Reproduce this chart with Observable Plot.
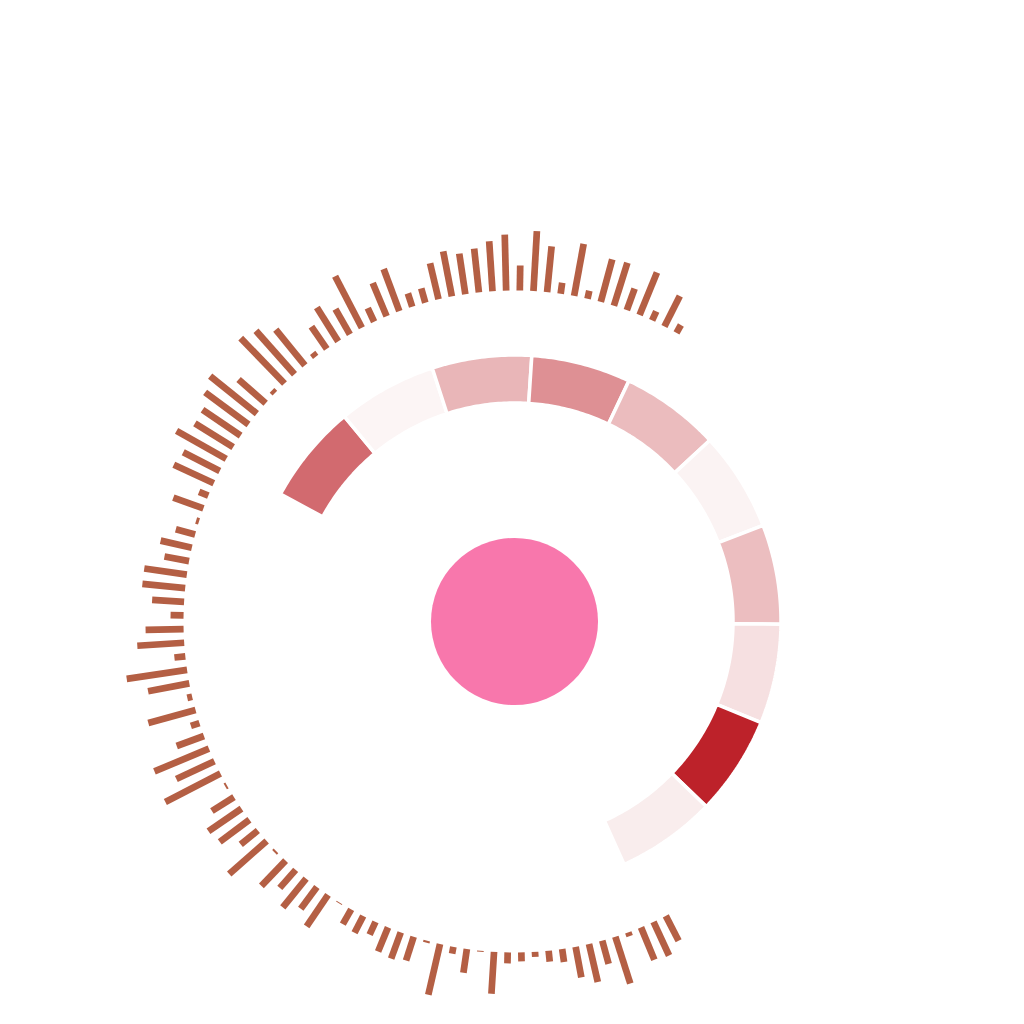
<!DOCTYPE html>
<html>
<head>
<meta charset="utf-8">
<script src="https://cdn.jsdelivr.net/npm/d3@7"></script>
<script src="https://cdn.jsdelivr.net/npm/@observablehq/plot@0.6"></script>
<style>
  html, body { margin: 0; padding: 0; background: #ffffff; }
  #chart { width: 1024px; height: 1024px; }
</style>
</head>
<body>
<div id="chart"></div>
<script>
// ---------------- data ----------------
// outer radial bars (101 bars, clockwise starting at lower right)
const barValues = [
  28, 37, 35, 4, 49, 24, 39, 31, 13, 11,
  5, 9, 11, 42, 1, 24, 7, 52, 2, 25,
  28, 26, 14, 19, 17, 1, 38, 27, 37, 24,
  35, 2, 50, 22, 37, 40, 26, 2, 62, 42,
  59, 29, 9, 49, 5, 42, 61, 11, 47, 38,
  13, 32, 43, 43, 25, 32, 20, 3, 32, 10,
  44, 41, 57, 45, 46, 54, 60, 36, 4, 63,
  58, 46, 5, 27, 40, 29, 58, 15, 36, 45,
  14, 15, 37, 46, 41, 44, 50, 56, 25, 60,
  46, 11, 53, 8, 44, 45, 23, 46, 10, 34, 9
];
// inner ring segments (heat values)
const ringCategories = ["S1", "S2", "S3", "S4", "S5", "S6", "S7", "S8", "S9", "S10"];
const ringValues = [66, 0, 30, 48, 27, 1, 26, 10, 100, 4];
// centre disc
const centerValues = [1];

// ---------------- layout ----------------
const W = 1024, H = 1024;
const CX = 514, CY = 621;            // pixel position of the polar origin
const barInner = 331;                // radius where bars start
const barStart = 152.8, barEnd = 389.3; // degrees clockwise from 12 o'clock
const ringInner = 218.5, ringOuter = 266.5;
const ringStart = -61.4, ringEnd = 155.7;
const centerR = 83.5;

const rad = d => d * Math.PI / 180;
const polar = (angleDeg, r) => ({ x: r * Math.sin(rad(angleDeg)), y: r * Math.cos(rad(angleDeg)) });

// bar angle scale
const barAngle = d3.scaleLinear().domain([0, barValues.length - 1]).range([barStart, barEnd]);
const bars = barValues.map((v, i) => {
  const a = barAngle(i);
  const p0 = polar(a, barInner), p1 = polar(a, barInner + v);
  return { i, value: v, x1: p0.x, y1: p0.y, x2: p1.x, y2: p1.y };
});

// ring segment polygons
const ringAngle = d3.scaleLinear().domain([0, ringCategories.length]).range([ringStart, ringEnd]);
const ringPts = [];
ringCategories.forEach((cat, k) => {
  const a0 = ringAngle(k), a1 = ringAngle(k + 1);
  const n = 30;
  const pts = [];
  for (let j = 0; j <= n; j++) pts.push(polar(a0 + (a1 - a0) * j / n, ringOuter));
  for (let j = n; j >= 0; j--) pts.push(polar(a0 + (a1 - a0) * j / n, ringInner));
  pts.push(pts[0]);
  pts.forEach(p => ringPts.push({ cat, value: ringValues[k], x: p.x, y: p.y }));
});

const centre = centerValues.map(v => ({ x: 0, y: 0, value: v }));

const chart = Plot.plot({
  width: W,
  height: H,
  margin: 0,
  style: { background: "#ffffff" },
  x: { domain: [-CX, W - CX], axis: null },
  y: { domain: [-(H - CY), CY], axis: null },
  color: { type: "linear", domain: [0, 100], range: ["#fcf5f5", "#bd222a"], interpolate: "rgb" },
  marks: [
    Plot.line(ringPts, {
      x: "x", y: "y", z: "cat", fill: "value",
      stroke: "#ffffff", strokeWidth: 3.5, strokeLinejoin: "miter", curve: "linear"
    }),
    Plot.dot(centre, { x: "x", y: "y", r: centerR, fill: "#f877ac", stroke: "none" }),
    Plot.link(bars, {
      x1: "x1", y1: "y1", x2: "x2", y2: "y2",
      stroke: "#b45f44", strokeWidth: 6.7, strokeLinecap: "butt"
    })
  ]
});
document.getElementById("chart").appendChild(chart);
</script>
</body>
</html>
